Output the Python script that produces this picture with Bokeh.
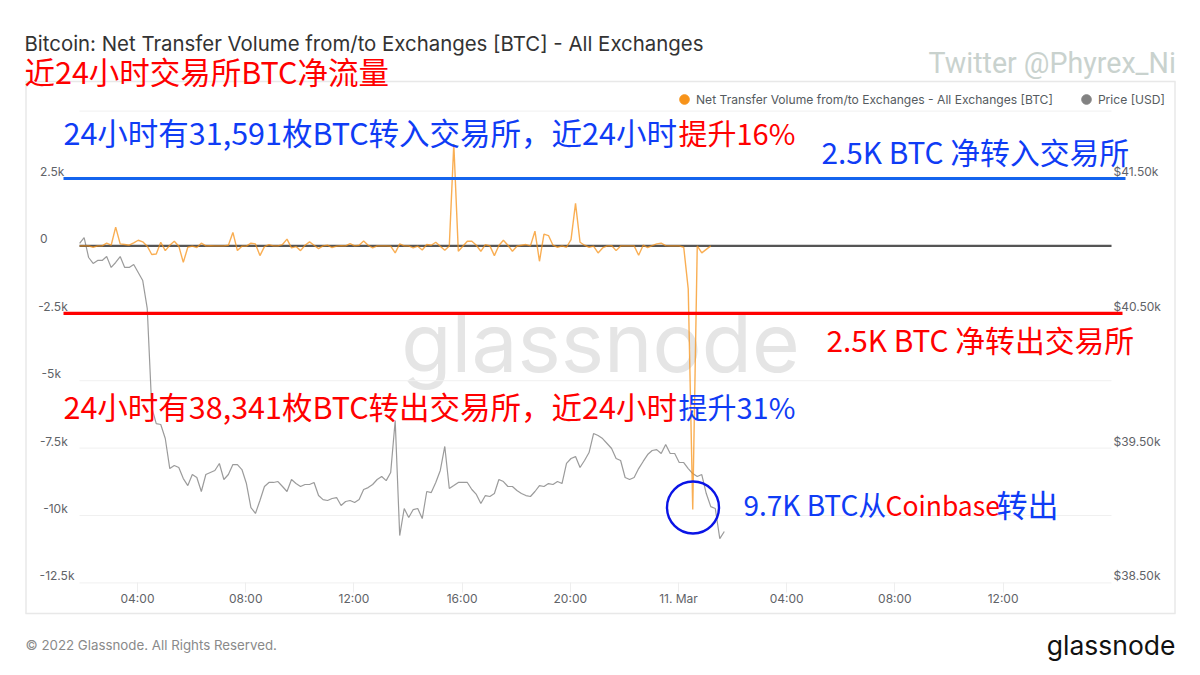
import numpy as np
from bokeh.plotting import figure
from bokeh.models import (Range1d, LinearAxis, FixedTicker, Label, Arrow, Legend, LegendItem)
from bokeh.embed import file_html
from bokeh.resources import INLINE

net_flow = [0,0,0,-50,0,0,100,25,694,75,50,25,110,210,150,-10,-320,-300,135,-175,25,175,-10,-610,-50,-10,-60,100,0,12,
            0,0,0,25,500,-175,-10,-10,100,75,-360,-25,50,0,0,50,250,-75,-25,-175,25,150,25,-100,0,25,-60,-10,12,0,
            87,0,25,186,25,-75,0,0,0,-10,-260,75,0,0,-75,-10,-150,50,25,135,-10,-160,0,3780,-200,-10,175,175,25,-200,
            50,0,-360,12,210,25,-200,-10,25,50,0,545,-570,434,384,25,-50,0,-50,235,1575,136,25,-50,-10,-260,-75,0,12,-175,
            0,0,0,0,-347,25,-60,12,75,100,12,0,0,0,-50,-1600,-9780,0,-260,-130,0]
price = [41018,41062,40914,40870,40892,40892,40921,40840,40877,40921,40840,40840,40862,40803,40743,40536,39801,39682,39675,39571,
         39348,39371,39356,39274,39222,39304,39282,39178,39304,39319,39334,39386,39267,39304,39378,39378,39341,39237,39059,39015,
         39111,39215,39245,39245,39252,39215,39178,39267,39237,39215,39230,39230,39245,39148,39118,39111,39126,39133,39074,39104,
         39111,39096,39118,39193,39207,39230,39267,39289,39259,39319,39705,38851,39052,38985,39044,39052,38977,39178,39170,39245,
         39334,39512,39200,39222,39245,39245,39245,39193,39156,39089,39148,39141,39163,39267,39252,39215,39215,39185,39163,39148,
         39141,39178,39222,39215,39237,39230,39252,39237,39386,39423,39437,39356,39408,39467,39608,39593,39571,39534,39497,39423,
         39408,39282,39267,39282,39348,39401,39452,39482,39489,39460,39527,39460,39460,39393,39393,39348,39311,39289,39304,39163,
         39066,39052,38829,38881]
start_hour = 1.86
hours_per_point = 1 / 6

x_ticks = [4, 8, 12, 16, 20, 24, 28, 32, 36]
x_labels = ["04:00", "08:00", "12:00", "16:00", "20:00", "11. Mar", "04:00", "08:00", "12:00"]
y_ticks = [-12500, -10000, -7500, -5000, -2500, 0, 2500]
NB = "\u00a0"
y_labels = ["-12.5k", "-10k" + NB * 2, "-7.5k" + NB * 2, "-5k" + NB * 4, "-2.5k" + NB * 2, "0" + NB * 8, "2.5k" + NB * 3]
grid_ticks = [-12500, -10000, -7500, -5000, -2500, 0, 2500, 5000]
price_ticks = [38500, 39500, 40500, 41500]
price_labels = ["$38.50k", "$39.50k", "$40.50k", "$41.50k"]
threshold_in = 2500
threshold_out = -2500

W, H = 1200, 675
GRID_L, GRID_R = 79, 1111
LABEL_LIFT = 7   # the tick labels sit this many pixels above their gridlines

def X(px): return 4 + (px - 137) / 27.05
def Y(py): return (245.4 - py) * 2500 / 67.4
def P(py): return 41500 - (py - 178) * 1000 / 134.8

p = figure(width=W, height=H, output_backend="svg", toolbar_location=None,
           x_range=Range1d(X(0), X(W)), y_range=Range1d(Y(H), Y(0)),
           background_fill_color="white", border_fill_color="white", outline_line_color=None,
           min_border=0, min_border_left=0, min_border_right=0, min_border_top=0, min_border_bottom=0)
p.extra_y_ranges = {
    "price": Range1d(P(H), P(0)),
    "left_ticks": Range1d(Y(H + LABEL_LIFT), Y(LABEL_LIFT)),
    "right_ticks": Range1d(P(H + LABEL_LIFT), P(LABEL_LIFT)),
}

TICK = "#5f6368"
INTER = "Inter"
ax = p.xaxis[0]
ax.fixed_location = Y(582.4)
ax.ticker = FixedTicker(ticks=x_ticks)
ax.major_label_overrides = dict(zip(x_ticks, x_labels))
ax.axis_line_color = None
ax.major_tick_line_color = "#eeeeee"
ax.major_tick_in = 0
ax.major_tick_out = 10
ax.minor_tick_line_color = None
ax.major_label_standoff = -2
ax.major_label_text_font = INTER
ax.major_label_text_font_size = "12px"
ax.major_label_text_color = TICK

ay = p.yaxis[0]
ay.y_range_name = "left_ticks"
ay.fixed_location = X(79)
ay.ticker = FixedTicker(ticks=y_ticks)
ay.major_label_overrides = dict(zip(y_ticks, y_labels))
ay.axis_line_color = None
ay.major_tick_line_color = None
ay.minor_tick_line_color = None
ay.major_tick_out = 0
ay.major_tick_in = 0
ay.major_label_standoff = 5
ay.major_label_text_font = INTER
ay.major_label_text_font_size = "12px"
ay.major_label_text_color = TICK

ar = LinearAxis(y_range_name="right_ticks", fixed_location=X(GRID_R), ticker=FixedTicker(ticks=price_ticks),
                major_label_overrides=dict(zip(price_ticks, price_labels)),
                axis_line_color=None, major_tick_line_color=None, minor_tick_line_color=None,
                major_tick_out=0, major_tick_in=0, major_label_standoff=2,
                major_label_text_font=INTER, major_label_text_font_size="12px",
                major_label_text_color=TICK)
p.add_layout(ar, "right")

p.xgrid.visible = False
p.ygrid.visible = False
p.segment(x0=[X(GRID_L)] * len(grid_ticks), x1=[X(GRID_R)] * len(grid_ticks), y0=grid_ticks, y1=grid_ticks,
          line_color="#f0f0f0", line_width=1)

CJK = "Noto Sans CJK SC"
def txt(px, py, s, color, size="30.5px", font=CJK, align="left", baseline="middle", level="overlay"):
    p.add_layout(Label(x=X(px), y=Y(py), text=s, text_color=color, text_font=font, text_font_size=size,
                       text_align=align, text_baseline=baseline, level=level))

# watermark beneath the data
txt(600, 342, "glassnode", "#e5e5e5", "82px", INTER, "center", "alphabetic", "underlay")

t_price = start_hour + np.arange(len(price)) * hours_per_point
t_flow = start_hour + np.arange(len(net_flow)) * hours_per_point
gray = p.line(t_price, price, y_range_name="price", line_color="#8a8a8a", line_width=1.2, line_alpha=0.85)
p.segment(x0=[X(GRID_L)], x1=[X(GRID_R)], y0=[0], y1=[0], line_color="#555555", line_width=2.4)
orange = p.line(t_flow, net_flow, line_color="#f7931a", line_width=1.4, line_alpha=0.75)

# legend
d1 = p.scatter([np.nan], [np.nan], size=10, color="#f7931a")
d2 = p.scatter([np.nan], [np.nan], size=10, color="#828282")
leg = Legend(items=[LegendItem(label="Net Transfer Volume from/to Exchanges - All Exchanges [BTC]", renderers=[d1]),
                    LegendItem(label="Price [USD]", renderers=[d2])],
             orientation="horizontal", location=(672, H - 111), padding=0, margin=0, spacing=21,
             glyph_width=24, glyph_height=24, label_standoff=-6, border_line_color=None, background_fill_alpha=0,
             label_text_font=INTER, label_text_font_size="12.1px", label_text_color="#555b60",
             label_height=24, label_text_baseline="middle")
p.add_layout(leg)

# threshold lines and frame
def rule(a, b, c, d, color, w):
    p.add_layout(Arrow(end=None, x_start=a, y_start=b, x_end=c, y_end=d, line_color=color, line_width=w))
rule(X(63), threshold_in, X(1125), threshold_in, "#1464ee", 3.2)
rule(X(63), threshold_out, X(1122), threshold_out, "#ff0000", 3.2)
BOX = "#e8e8e8"
rule(X(25), Y(81), X(1175), Y(81), BOX, 1.5)
rule(X(25), Y(613), X(1175), Y(613), BOX, 1.5)
rule(X(25.5), Y(81), X(25.5), Y(613), BOX, 1.5)
rule(X(1174.5), Y(81), X(1174.5), Y(613), BOX, 1.5)

# highlight circle around the outflow
p.scatter([X(692.5)], [Y(507)], size=52, marker="circle", fill_color=None, line_color="#0a14e6", line_width=2.4)

BLUE = "#0f3cf5"
RED = "#ff0000"
txt(24, 43, "Bitcoin: Net Transfer Volume from/to Exchanges [BTC] - All Exchanges", "#333333", "20.4px", INTER)
txt(24, 70, "近24小时交易所BTC净流量", RED, "30.5px")
txt(928, 62, "Twitter @Phyrex_Ni", "#c9d2ce", "28.6px", "Roboto")
txt(63, 131, "24小时有31,591枚BTC转入交易所，近24小时", BLUE)
txt(678, 131, "提升16%", RED, "29px")
txt(821, 150, "2.5K BTC 净转入交易所", BLUE, "29.8px")
txt(826, 338, "2.5K BTC 净转出交易所", RED, "29.8px")
txt(63, 405, "24小时有38,341枚BTC转出交易所，近24小时", RED)
txt(678, 405, "提升31%", BLUE, "29px")
txt(743, 503, "9.7K BTC从", BLUE, "28px")
txt(885, 504, "Coinbase", RED, "26.5px")
txt(996, 503, "转出", BLUE, "31px")
txt(25, 644, "© 2022 Glassnode. All Rights Reserved.", "#8a8a8a", "13.3px", INTER)
txt(1175, 644, "glassnode", "#111111", "26.5px", INTER, "right", "alphabetic")

open("out.html", "w").write(file_html(p, INLINE))
